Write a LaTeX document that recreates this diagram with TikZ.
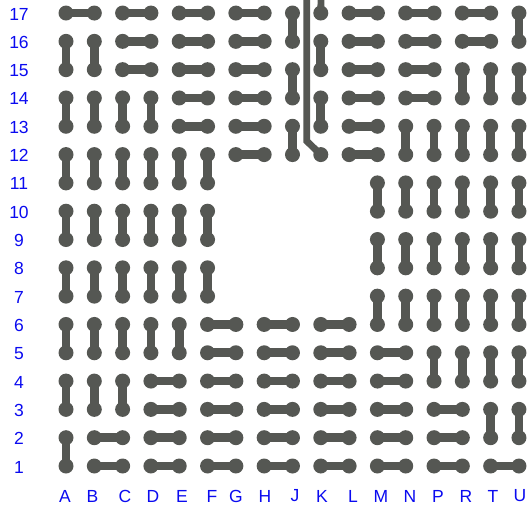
\documentclass[tikz,border=0pt]{standalone}
\usepackage{fontspec}
\setmainfont{Liberation Sans}
\definecolor{padgray}{HTML}{555753}
\definecolor{lblblue}{HTML}{0A0AF0}

\begin{document}
\begin{tikzpicture}[x=1pt,y=-1pt,
            pad/.style={circle,fill=padgray,inner sep=0pt,minimum size=15pt},
            link/.style={draw=padgray,line width=8.6pt},
            wire/.style={draw=padgray,line width=6.8pt},
            lbl/.style={text=lblblue,inner sep=0pt,font=\fontsize{17.5}{20}\selectfont}]

            \useasboundingbox (0,0) rectangle (529,506);

            % the pads, all but the empty window in the middle
            \foreach \cl [count=\ci from 0] in {A,B,C,D,E,F,G,H,J,K,L,M,N,P,R,T,U} {
                \foreach \rw in {1,...,17} {
                    \pgfmathsetmacro{\inhole}{and(and(\ci>5,\ci<11),and(\rw>6,\rw<12))}
                    \ifnum\inhole=0
                        \node[pad] (p\cl\rw) at ({66+28.31*\ci},{466-28.31*(\rw-1)}) {};
                    \fi
                }
            }

            % the column and row labels
            \foreach \cl/\lx in {A/65,B/92.5,C/125,D/153,E/182,F/212,G/236,H/265,J/295,K/322,L/353,M/381,N/410,P/438,R/466,T/493,U/520} {
                \node[lbl] (l\cl) at (\lx,496) {\cl};
            }
            \foreach \rw in {1,...,17} {
                \node[lbl] (l\rw) at (19,{467-28.31*(\rw-1)}) {\rw};
            }

            % horizontal links, row by row
            \foreach \rw/\pairs in {17/{A/B,C/D,E/F,G/H,L/M,N/P,R/T},
                    16/{C/D,E/F,G/H,L/M,N/P,R/T},
                    15/{C/D,E/F,G/H,L/M,N/P},
                    14/{E/F,G/H,L/M,N/P},
                    13/{E/F,G/H,L/M},
                    12/{G/H,L/M},
                    6/{F/G,H/J,K/L},
                    5/{F/G,H/J,K/L,M/N},
                    4/{D/E,F/G,H/J,K/L,M/N},
                    3/{D/E,F/G,H/J,K/L,M/N,P/R},
                    2/{B/C,D/E,F/G,H/J,K/L,M/N,P/R},
                    1/{B/C,D/E,F/G,H/J,K/L,M/N,P/R,T/U}} {
                \foreach \a/\b in \pairs {
                    \draw[link] (p\a\rw.center)--(p\b\rw.center);
                }
            }

            % vertical links, upper row / lower row / columns
            \foreach \up/\dn/\cols in {17/16/{J,U},
                    16/15/{A,B,K},
                    15/14/{J,R,T,U},
                    14/13/{A,B,C,D,K},
                    13/12/{J,N,P,R,T,U},
                    12/11/{A,B,C,D,E,F},
                    11/10/{M,N,P,R,T,U},
                    10/9/{A,B,C,D,E,F},
                    9/8/{M,N,P,R,T,U},
                    8/7/{A,B,C,D,E,F},
                    7/6/{M,N,P,R,T,U},
                    6/5/{A,B,C,D,E},
                    5/4/{P,R,T,U},
                    4/3/{A,B,C},
                    3/2/{T,U},
                    2/1/{A}} {
                \foreach \cl in \cols {
                    \draw[link] (p\cl\up.center)--(p\cl\dn.center);
                }
            }

            % the two wires leaving at the top edge
            \coordinate (topK) at (321,-4);
            \coordinate (topW) at (306.7,-4);
            \coordinate (bendW) at (306.7,141);
            \draw[wire] (topK)--(pK17.center);
            \draw[wire] (topW)--(bendW)--(pK12.center);
        \end{tikzpicture}
\end{document}
